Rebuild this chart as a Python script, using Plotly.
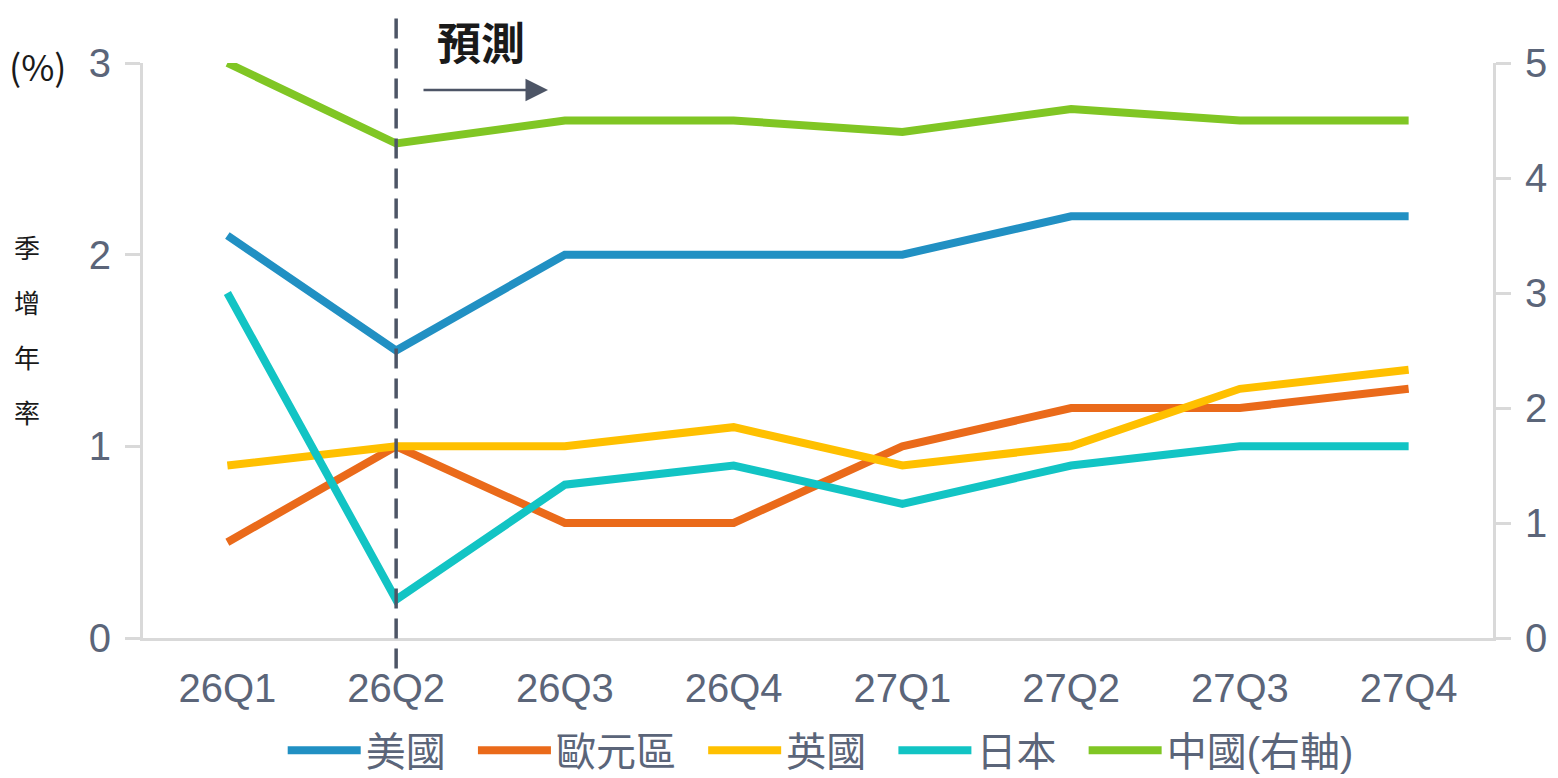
import plotly.graph_objects as go

quarters = ["26Q1", "26Q2", "26Q3", "26Q4", "27Q1", "27Q2", "27Q3", "27Q4"]

us = [2.1, 1.5, 2.0, 2.0, 2.0, 2.2, 2.2, 2.2]
euro = [0.5, 1.0, 0.6, 0.6, 1.0, 1.2, 1.2, 1.3]
uk = [0.9, 1.0, 1.0, 1.1, 0.9, 1.0, 1.3, 1.4]
japan = [1.8, 0.2, 0.8, 0.9, 0.7, 0.9, 1.0, 1.0]
china = [5.0, 4.3, 4.5, 4.5, 4.4, 4.6, 4.5, 4.5]  # right axis

left_ticks = [0, 1, 2, 3]
right_ticks = [0, 1, 2, 3, 4, 5]
forecast_start = "26Q2"

FONT = "Liberation Sans, Arial, Noto Sans CJK TC, sans-serif"
CJK = "Noto Sans CJK TC, sans-serif"
TICK_COLOR = "#5b6579"
AXIS_COLOR = "#d9d9d9"
PAD = "\u00a0\u00a0"  # extra room after each legend entry

series = [
    ("美國", us, "#2190c3", "y"),
    ("歐元區", euro, "#ea6a1a", "y"),
    ("英國", uk, "#ffc000", "y"),
    ("日本", japan, "#12c4c4", "y"),
    ("中國(右軸)", china, "#80c624", "y2"),
]

fig = go.Figure()
for i, (name, vals, color, axis) in enumerate(series):
    label = name if i == len(series) - 1 else name + PAD
    fig.add_trace(go.Scatter(
        x=quarters, y=vals, name=label, mode="lines", yaxis=axis,
        line=dict(color=color, width=8),
    ))

# forecast divider
fig.add_shape(type="line", xref="x", yref="paper",
              x0=forecast_start, x1=forecast_start, y0=-0.053, y1=1.092,
              line=dict(color="#4d5566", width=3.5, dash="20px,10px"), layer="above")

# forecast label + arrow
fig.add_annotation(xref="paper", yref="paper", x=0.2504, y=1.038,
                   xanchor="center", yanchor="middle",
                   text="<b>預測</b>", showarrow=False,
                   font=dict(family=CJK, size=44, color="#1a1a1a"))
fig.add_annotation(xref="paper", yref="paper", x=0.30, y=0.953,
                   ax=-126, ay=0, text="", showarrow=True,
                   arrowhead=2, arrowsize=1.8, arrowwidth=2.5,
                   arrowcolor="#4d5566")

# left axis unit and vertical title
fig.add_annotation(xref="paper", yref="paper", x=-0.078, y=0.997,
                   xanchor="center", yanchor="middle",
                   text="(%)", showarrow=False,
                   font=dict(family=CJK, size=36, color="#1a1a1a"))
for i, ch in enumerate("季增年率"):
    fig.add_annotation(xref="paper", yref="paper", x=-0.086,
                       y=(638 - 246 - 55 * i) / 575,
                       xanchor="center", yanchor="middle",
                       text=ch, showarrow=False,
                       font=dict(family=CJK, size=26, color="#1a1a1a"))

# page body has an 8px margin, so the figure is sized and offset to fit the window
fig.update_layout(
    width=1550, height=770,
    margin=dict(l=135, r=65, t=55, b=140, autoexpand=False),
    paper_bgcolor="white", plot_bgcolor="white",
    font=dict(family=FONT, color=TICK_COLOR),
    showlegend=True,
    legend=dict(orientation="h", x=0.502, xanchor="center",
                y=-0.195, yanchor="middle",
                font=dict(family=FONT, size=40, color=TICK_COLOR),
                itemwidth=73),
    xaxis=dict(
        type="category", range=[-0.5, 7.5], automargin=False,
        showline=True, linecolor=AXIS_COLOR, linewidth=3,
        showgrid=False, zeroline=False, ticks="",
        tickfont=dict(size=40, color=TICK_COLOR),
        ticklabelstandoff=13,
    ),
    yaxis=dict(
        range=[0, 3], tickvals=left_ticks, automargin=False,
        showline=True, linecolor=AXIS_COLOR, linewidth=3,
        ticks="outside", ticklen=15, tickwidth=3, tickcolor=AXIS_COLOR,
        showgrid=False, zeroline=False,
        tickfont=dict(size=40, color=TICK_COLOR),
        ticklabelstandoff=6,
    ),
    yaxis2=dict(
        range=[0, 5], tickvals=right_ticks, overlaying="y", side="right",
        automargin=False,
        showline=True, linecolor=AXIS_COLOR, linewidth=3,
        ticks="outside", ticklen=15, tickwidth=3, tickcolor=AXIS_COLOR,
        showgrid=False, zeroline=False,
        tickfont=dict(size=40, color=TICK_COLOR),
        ticklabelstandoff=6,
    ),
)

fig.write_html("out.html")
